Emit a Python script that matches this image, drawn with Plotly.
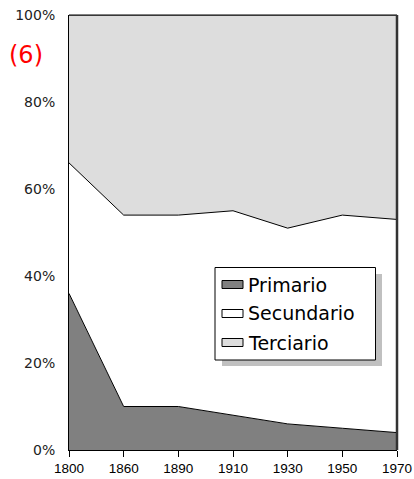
import plotly.graph_objects as go

years = ["1800", "1860", "1890", "1910", "1930", "1950", "1970"]
primario = [36, 10, 10, 8, 6, 5, 4]
secundario = [30, 44, 44, 47, 45, 49, 49]
terciario = [34, 46, 46, 45, 49, 46, 47]
series_names = ["Primario", "Secundario", "Terciario"]
series_colors = ["#808080", "#ffffff", "#dddddd"]
y_ticks = [0, 20, 40, 60, 80, 100]
y_tick_labels = ["0%", "20%", "40%", "60%", "80%", "100%"]

W, H = 414, 479
L, R, T, B = 69, 397, 15, 450  # plot area in pixels


def px(x):
    return (x - L) / (R - L)


def py(y):
    return (B - y) / (B - T)


fig = go.Figure()
for name, vals, col in zip(series_names, [primario, secundario, terciario], series_colors):
    fig.add_trace(go.Scatter(
        x=years, y=vals, name=name, stackgroup="one", mode="lines",
        line=dict(color="black", width=1), fillcolor=col, showlegend=False,
        hoverinfo="x+y+name",
    ))

shapes = []
shapes.append(dict(type="line", xref="paper", yref="paper", x0=0, x1=1, y0=1, y1=1,
                   line=dict(color="black", width=1)))
shapes.append(dict(type="line", xref="paper", yref="paper", x0=1, x1=1, y0=0, y1=1,
                   line=dict(color="#333333", width=2.5)))
shapes.append(dict(type="rect", xref="paper", yref="paper", x0=px(222), x1=px(382),
                   y0=py(366), y1=py(274), fillcolor="#c0c0c0", line=dict(width=0)))
shapes.append(dict(type="rect", xref="paper", yref="paper", x0=px(215), x1=px(375.5),
                   y0=py(360), y1=py(267.5), fillcolor="white", line=dict(color="black", width=1)))
annotations = []
row_y = [284.5, 313.5, 342.5]
for name, col, yy in zip(series_names, series_colors, row_y):
    shapes.append(dict(type="rect", xref="paper", yref="paper", x0=px(222), x1=px(243),
                       y0=py(yy + 4), y1=py(yy - 4), fillcolor=col,
                       line=dict(color="black", width=1)))
    annotations.append(dict(xref="paper", yref="paper", x=px(246), y=py(yy), text=name,
                            showarrow=False, xanchor="left", yanchor="middle",
                            font=dict(family="DejaVu Sans", size=19, color="black")))

annotations.append(dict(xref="paper", yref="paper", x=px(25.5), y=py(55), text="(6)",
                        showarrow=False, xanchor="center", yanchor="middle",
                        font=dict(family="DejaVu Sans", size=24, color="#ff0000")))

fig.update_layout(
    width=W, height=H,
    margin=dict(l=L, r=W - R, t=T, b=H - B, pad=0, autoexpand=False),
    paper_bgcolor="white", plot_bgcolor="white",
    shapes=shapes, annotations=annotations,
    xaxis=dict(type="category", range=[0, 6], showgrid=False, zeroline=False,
               showline=True, linecolor="black", linewidth=1, automargin=False,
               ticks="outside", ticklen=6, tickcolor="black",
               tickfont=dict(family="Liberation Sans", size=13.5, color="black")),
    yaxis=dict(range=[0, 100], tickmode="array", tickvals=y_ticks, ticktext=y_tick_labels,
               showgrid=False, automargin=False,
               zeroline=False, showline=True, linecolor="black", linewidth=1,
               ticks="outside", ticklen=10, tickcolor="rgba(0,0,0,0)",
               tickfont=dict(family="DejaVu Sans", size=14, color="#222222")),
)

fig.write_html("out.html", config={"displayModeBar": False},
               post_script="document.body.style.margin='0';")
